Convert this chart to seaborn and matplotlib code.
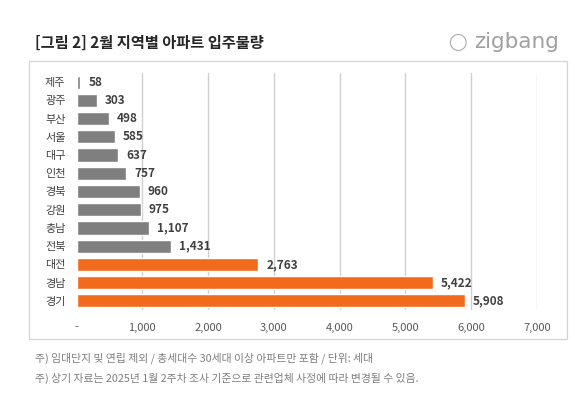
import matplotlib
matplotlib.use("Agg")
import matplotlib.pyplot as plt
import seaborn as sns
import pandas as pd
from matplotlib.patches import Rectangle

regions = ["제주", "광주", "부산", "서울", "대구", "인천", "경북", "강원", "충남", "전북", "대전", "경남", "경기"]
values = [58, 303, 498, 585, 637, 757, 960, 975, 1107, 1431, 2763, 5422, 5908]
highlight = [False]*10 + [True]*3
xticks = [0, 1000, 2000, 3000, 4000, 5000, 6000, 7000]
xticklabels = ["-", "1,000", "2,000", "3,000", "4,000", "5,000", "6,000", "7,000"]
title = "[그림 2] 2월 지역별 아파트 입주물량"
notes = ["주) 임대단지 및 연립 제외 / 총세대수 30세대 이상 아파트만 포함 / 단위: 세대",
         "주) 상기 자료는 2025년 1월 2주차 조사 기준으로 관련업체 사정에 따라 변경될 수 있음."]

sns.set_style("white")
plt.rcParams['font.family'] = ['Noto Sans CJK KR', 'DejaVu Sans']

W, H = 583, 405
fig = plt.figure(figsize=(W/100, H/100), dpi=100)
fig.patch.set_facecolor("white")

# chart box
box = Rectangle((29/W, 1-339/H), (567-29)/W, (339-61)/H, transform=fig.transFigure,
                facecolor="white", edgecolor="#d4d4d4", lw=0.9, zorder=-5)
fig.patches.append(box)

ax = fig.add_axes([76.6/W, 1-310/H, (537-76.6)/W, (310-73)/H])
ax.set_zorder(3)
ax.set_facecolor("none")
df = pd.DataFrame({"region": regions, "value": values,
                   "grp": ["hi" if h else "lo" for h in highlight]})
sns.barplot(data=df, y="region", x="value", hue="grp", palette={"lo": "#7f7f7f", "hi": "#f26b1d"},
            dodge=False, width=0.72, legend=False, ax=ax, saturation=1, zorder=3)
ax.set_xlim(0, 7000)
ax.set_ylim(12.5, -0.5)
ax.set_xticks(xticks)
ax.set_xticklabels(xticklabels, fontsize=8, color="#595959")
ax.tick_params(axis="x", length=0, pad=9)
ax.tick_params(axis="y", length=0, pad=8, labelsize=8, labelcolor="#404040")
ax.set_xlabel("")
ax.set_ylabel("")
for s in ax.spines.values():
    s.set_visible(False)
for x in xticks[1:]:
    ax.axvline(x, color="#cfcfcf", lw=1.0, zorder=1)

for i, v in enumerate(values):
    ax.text(v + 120, i, f"{v:,}", va="center", ha="left", fontsize=8.5, fontweight="bold", color="#404040")

fig.text(35/W, 1-43/H, title, fontsize=11, fontweight="bold", color="#262626", va="center", ha="left")
fig.text(559/W, 1-42/H, "zigbang", fontsize=15.5, color="#a0a0a0", va="center", ha="right",
         family=["DejaVu Sans"])
fig.text(457/W, 1-42/H, "◯", fontsize=12, color="#a8a8a8", va="center", ha="center",
         family=["DejaVu Sans"])

fig.text(35/W, 1-358/H, notes[0], fontsize=7.8, color="#7f7f7f", va="center", ha="left")
fig.text(35/W, 1-378/H, notes[1], fontsize=7.8, color="#7f7f7f", va="center", ha="left")

fig.savefig("out.png", dpi=100)
